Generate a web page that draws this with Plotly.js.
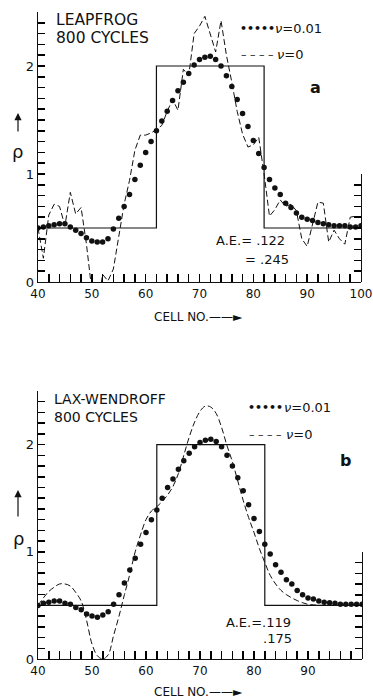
<!DOCTYPE html>
<html><head><meta charset="utf-8">
<script src="https://cdn.plot.ly/plotly-3.0.1.min.js"></script>
<style>html,body{margin:0;padding:0;background:#fff}#chart{width:373px;height:700px}</style>
</head><body><div id="chart"></div>
<script>
const cells = [40,41,42,43,44,45,46,47,48,49,50,51,52,53,54,55,56,57,58,59,60,61,62,63,64,65,66,67,68,69,70,71,72,73,74,75,76,77,78,79,80,81,82,83,84,85,86,87,88,89,90,91,92,93,94,95,96,97,98,99,100];

const exactX = [40,62,62,82,82,100];
const exactY = [0.5,0.5,2,2,0.5,0.5];

// Panel a: Leapfrog, 800 cycles
const leapDots = [0.50,0.51,0.52,0.53,0.54,0.54,0.51,0.48,0.45,0.41,
  0.38,0.37,0.37,0.40,0.49,0.59,0.70,0.81,0.95,1.08,
  1.20,1.30,1.40,1.49,1.58,1.68,1.77,1.85,1.93,2.01,
  2.06,2.08,2.09,2.06,2.00,1.91,1.81,1.69,1.56,1.44,
  1.31,1.19,1.06,0.95,0.87,0.81,0.73,0.69,0.64,0.60,
  0.58,0.57,0.55,0.54,0.53,0.52,0.52,0.52,0.51,0.51,
  0.52];
const leapDash = [0.50,0.22,0.62,0.72,0.70,0.52,0.83,0.63,0.69,0.35,
  -0.08,-0.25,0.07,0.01,0.12,0.42,0.72,0.94,1.22,1.36,
  1.36,1.38,1.41,1.45,1.58,1.69,1.59,1.97,1.91,2.30,
  2.37,2.46,2.30,2.13,2.42,2.10,1.85,1.58,1.37,1.25,
  1.27,1.34,1.00,0.61,0.67,0.76,0.70,0.72,0.66,0.40,
  0.33,0.55,0.74,0.73,0.37,0.48,0.40,0.35,0.60,0.61,
  0.60];

// Panel b: Lax-Wendroff, 800 cycles
const laxDots = [0.50,0.52,0.53,0.54,0.54,0.52,0.51,0.48,0.46,0.42,
  0.40,0.39,0.41,0.44,0.51,0.60,0.71,0.83,0.94,1.07,
  1.18,1.30,1.39,1.50,1.60,1.68,1.77,1.85,1.92,1.98,
  2.02,2.04,2.05,2.03,1.98,1.90,1.80,1.69,1.57,1.44,
  1.31,1.19,1.07,0.98,0.88,0.81,0.74,0.70,0.64,0.60,
  0.57,0.56,0.54,0.53,0.525,0.52,0.51,0.51,0.51,0.51,
  0.51];
const laxDash = [0.50,0.57,0.63,0.67,0.70,0.70,0.68,0.62,0.54,0.36,
  0.14,0.03,0.00,0.04,0.22,0.40,0.60,0.79,1.00,1.16,
  1.30,1.38,1.42,1.47,1.53,1.61,1.73,1.90,2.07,2.21,
  2.31,2.36,2.35,2.29,2.16,1.99,1.84,1.66,1.48,1.32,
  1.18,1.03,0.90,0.78,0.70,0.64,0.60,0.57,0.545,0.525,
  0.51,0.505,0.50,0.50,0.50,0.50,0.50,0.50,0.50,0.50,
  0.50];

// Tick marks and labels
const xTickVals = [40,42,44,46,48,50,52,54,56,58,60,62,64,66,68,70,72,74,76,78,80,82,84,86,88,90,92,94,96,98,100];
const xTickText = ['40','','','','','50','','','','','60','','','','','70','','','','','80','','','','','90','','','','','100'];
const yTickVals = [0,0.1,0.2,0.3,0.4,0.5,0.6,0.7,0.8,0.9,1,1.1,1.2,1.3,1.4,1.5,1.6,1.7,1.8,1.9,2,2.1,2.2,2.3,2.4,2.5];
const yTickText = ['0','','','','','','','','','','1','','','','','','','','','','2','','','','',''];
const rTickVals = [0,0.1,0.2,0.3,0.4,0.5,0.6,0.7,0.8,0.9,1];

const W = 373, H = 700;
const fx = p => p / W;
const fy = p => 1 - p / H;
const INK = '#111';
const FONT = 'DejaVu Sans';

function traces(xa, ya, yr, dots, dash, smooth) {
  return [
    {x: exactX, y: exactY, xaxis: xa, yaxis: ya, mode: 'lines', line: {color: INK, width: 1.2}, hoverinfo: 'skip'},
    {x: cells, y: dash, xaxis: xa, yaxis: ya, mode: 'lines', line: {color: INK, width: 1, dash: '6px,3px', shape: smooth ? 'spline' : 'linear'}, hoverinfo: 'skip'},
    {x: cells, y: dots, xaxis: xa, yaxis: ya, mode: 'markers', marker: {color: INK, size: 5.5}, hoverinfo: 'skip'},
    {x: [], y: [], xaxis: xa, yaxis: yr, mode: 'lines', hoverinfo: 'skip'}
  ];
}

const data = [].concat(
  traces('x', 'y', 'y3', leapDots, leapDash, false),
  traces('x2', 'y2', 'y4', laxDots, laxDash, true)
);

function xAxis(d0, d1, anchor) {
  return {domain: [fx(d0), fx(d1)], anchor: anchor, range: [40, 100],
    tickmode: 'array', tickvals: xTickVals, ticktext: xTickText,
    ticks: 'inside', ticklen: 8, tickwidth: 1.5, tickcolor: '#000',
    showline: true, linecolor: INK, linewidth: 1.3, showgrid: false, zeroline: false,
    tickfont: {family: FONT, size: 12, color: INK}};
}
function yAxis(top, bot, anchor) {
  return {domain: [fy(bot), fy(top)], anchor: anchor, range: [0, 2.5],
    tickmode: 'array', tickvals: yTickVals, ticktext: yTickText,
    ticks: 'inside', ticklen: 7, tickwidth: 1.5, tickcolor: '#000',
    showline: true, linecolor: INK, linewidth: 1.3, showgrid: false, zeroline: false,
    tickfont: {family: FONT, size: 13, color: INK}};
}
function rAxis(bot, pxPerUnit, anchor) {
  return {domain: [fy(bot), fy(bot - pxPerUnit)], anchor: anchor, side: 'right', range: [0, 1],
    tickmode: 'array', tickvals: rTickVals,
    ticks: 'inside', ticklen: 7, tickwidth: 1.5, tickcolor: '#000', showticklabels: false,
    showline: true, linecolor: INK, linewidth: 1.3, showgrid: false, zeroline: false};
}

function txt(t, x, y, size, opts) {
  return Object.assign({text: t, x: fx(x), y: fy(y), xref: 'paper', yref: 'paper', showarrow: false,
    xanchor: 'left', yanchor: 'middle', font: {family: FONT, size: size, color: INK}}, opts || {});
}
function arrowUp(x, yHead, len) {
  return {text: '', x: fx(x), y: fy(yHead), xref: 'paper', yref: 'paper', showarrow: true,
    ax: 0, ay: len, arrowhead: 2, arrowsize: 1.2, arrowwidth: 1.2, arrowcolor: INK};
}

const annotations = [
  // panel a
  txt('LEAPFROG', 54, 20, 15.5),
  txt('800 CYCLES', 54, 38, 15.5),
  txt('<b>•••••</b>', 238, 28, 11),
  txt('<i>ν</i>=0.01', 273, 28, 13),
  txt('– – – –', 239, 55, 11),
  txt('<i>ν</i>=0', 275, 55, 13),
  txt('<b>a</b>', 315, 88, 16, {xanchor: 'center'}),
  txt('A.E.= .122', 214, 240, 13),
  txt('= .245', 243, 259, 13),
  txt('CELL NO.——►', 198, 317, 12, {xanchor: 'center'}),
  txt('ρ', 17, 152, 18, {xanchor: 'center'}),
  arrowUp(18, 113, 20),
  // panel b
  txt('LAX-WENDROFF', 52, 399, 14),
  txt('800 CYCLES', 52, 417, 14),
  txt('<b>•••••</b>', 246, 407, 11),
  txt('<i>ν</i>=0.01', 282, 407, 13),
  txt('– – – –', 247, 434, 11),
  txt('<i>ν</i>=0', 284, 434, 13),
  txt('<b>b</b>', 345, 460, 16, {xanchor: 'center'}),
  txt('A.E.=.119', 224, 622, 13),
  txt('.175', 261, 638, 13),
  txt('CELL NO.——►', 198, 692, 12, {xanchor: 'center'}),
  txt('ρ', 18, 538, 18, {xanchor: 'center'}),
  arrowUp(18, 490, 28)
];

const layout = {
  width: W, height: H,
  margin: {l: 0, r: 0, t: 0, b: 0},
  paper_bgcolor: '#fff', plot_bgcolor: 'rgba(0,0,0,0)',
  showlegend: false,
  font: {family: FONT, color: INK},
  xaxis: xAxis(38, 361, 'y'),
  yaxis: yAxis(12, 282, 'x'),
  yaxis3: rAxis(282, 108, 'x'),
  xaxis2: xAxis(38, 362, 'y2'),
  yaxis2: yAxis(391, 659, 'x2'),
  yaxis4: rAxis(659, 107, 'x2'),
  annotations: annotations
};

Plotly.newPlot('chart', data, layout, {staticPlot: true});
</script>
</body></html>
